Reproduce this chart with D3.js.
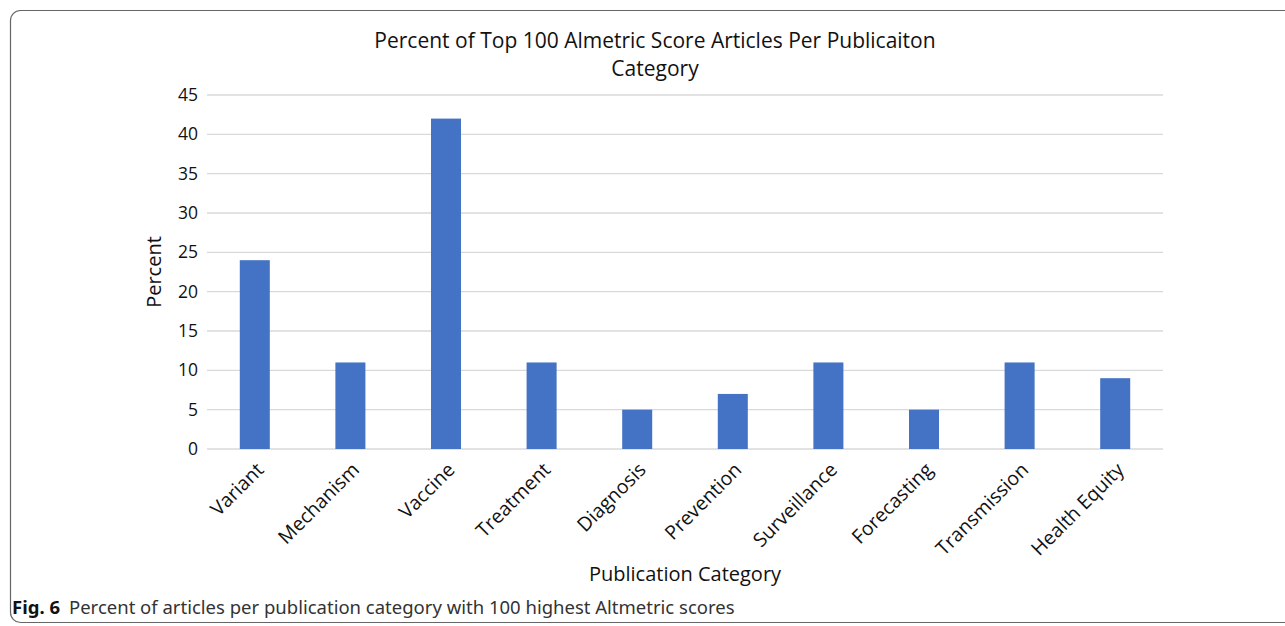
<!DOCTYPE html>
<html>
<head>
<meta charset="utf-8">
<script src="https://cdn.jsdelivr.net/npm/d3@7"></script>
<style>
  body { margin: 0; background: #fff; }
  text { font-family: "Open Sans", "Noto Sans", sans-serif; fill: #111; }
</style>
</head>
<body>
<div id="chart"></div>
<script>
const categories = ['Variant', 'Mechanism', 'Vaccine', 'Treatment', 'Diagnosis',
    'Prevention', 'Surveillance', 'Forecasting', 'Transmission', 'Health Equity'];
const percents = [24, 11, 42, 11, 5, 7, 11, 5, 11, 9];
const yTicks = [0, 5, 10, 15, 20, 25, 30, 35, 40, 45];

const width = 1285, height = 626;
const plot = { left: 207, right: 1163, top: 95, bottom: 449 };

const svg = d3.select('#chart').append('svg')
    .attr('width', width)
    .attr('height', height);

// Figure frame
svg.append('rect')
    .attr('x', 10.5).attr('y', 10.5)
    .attr('width', 1300).attr('height', 612)
    .attr('rx', 10)
    .style('fill', 'none')
    .style('stroke', '#666')
    .style('stroke-width', 1.2);

const x = d3.scaleBand()
    .domain(categories)
    .range([plot.left, plot.right])
    .paddingInner(0.686)
    .paddingOuter(0.343);

const y = d3.scaleLinear()
    .domain([0, 45])
    .range([plot.bottom, plot.top]);

// Grid lines
svg.append('g')
    .selectAll('line')
    .data(yTicks)
    .enter()
    .append('line')
    .attr('x1', plot.left).attr('x2', plot.right)
    .attr('y1', d => y(d)).attr('y2', d => y(d))
    .style('stroke', '#d9d9d9')
    .style('stroke-width', 1.3);

// Y axis tick labels
const yAxis = d3.axisLeft(y).tickValues(yTicks).tickSize(0).tickPadding(9);
svg.append('g')
    .attr('transform', `translate(${plot.left},0)`)
    .call(yAxis)
    .call(g => g.select('.domain').remove())
    .selectAll('text')
    .style('font-size', '17.5px')
    .style('font-family', '"Open Sans", sans-serif')
    .style('fill', '#111');

// Bars
svg.append('g')
    .selectAll('rect')
    .data(categories)
    .enter()
    .append('rect')
    .attr('x', d => x(d))
    .attr('y', (d, i) => y(percents[i]))
    .attr('width', x.bandwidth())
    .attr('height', (d, i) => y(0) - y(percents[i]))
    .style('fill', '#4472c4');

// X axis labels
svg.append('g')
    .selectAll('text')
    .data(categories)
    .enter()
    .append('text')
    .attr('transform', d => `translate(${x(d) + x.bandwidth() / 2 + 10},${plot.bottom + 22}) rotate(-45)`)
    .style('text-anchor', 'end')
    .style('font-size', '19.5px')
    .text(d => d);

// Title
const title = svg.append('text')
    .attr('x', 655)
    .attr('y', 48)
    .style('text-anchor', 'middle')
    .style('font-size', '21px');
title.append('tspan').attr('x', 655).text('Percent of Top 100 Almetric Score Articles Per Publicaiton');
title.append('tspan').attr('x', 655).attr('dy', 28).text('Category');

// Axis titles
svg.append('text')
    .attr('transform', 'translate(161,272) rotate(-90)')
    .style('text-anchor', 'middle')
    .style('font-size', '20px')
    .text('Percent');

svg.append('text')
    .attr('x', 685)
    .attr('y', 581)
    .style('text-anchor', 'middle')
    .style('font-size', '20px')
    .text('Publication Category');

// Caption
const caption = svg.append('text')
    .attr('x', 12)
    .attr('y', 614)
    .style('font-size', '18.5px')
    .style('font-family', '"Noto Sans", sans-serif');
caption.append('tspan').style('font-weight', 'bold').style('fill', '#111').text('Fig. 6');
caption.append('tspan').attr('dx', 9).style('fill', '#333')
    .text('Percent of articles per publication category with 100 highest Altmetric scores');
</script>
</body>
</html>
